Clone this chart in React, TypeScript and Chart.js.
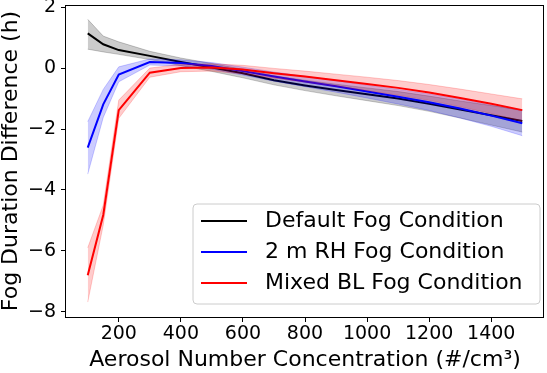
import React, { useEffect, useRef } from "react";
import { Chart, registerables } from "chart.js";

Chart.register(...registerables);

// ---- data ----
const xValues = [100, 150, 200, 300, 400, 500, 600, 700, 800, 900, 1000, 1100, 1200, 1300, 1400, 1500];

const defaultMean = [1.14, 0.78, 0.59, 0.40, 0.20, 0.02, -0.17, -0.40, -0.57, -0.72, -0.86, -1.00, -1.17, -1.36, -1.55, -1.74];
const defaultUpper = [1.60, 1.05, 0.86, 0.55, 0.33, 0.15, -0.04, -0.25, -0.40, -0.53, -0.65, -0.77, -0.92, -1.08, -1.23, -1.38];
const defaultLower = [0.62, 0.53, 0.45, 0.28, 0.08, -0.11, -0.32, -0.55, -0.74, -0.91, -1.07, -1.23, -1.42, -1.64, -1.87, -2.10];

const rhMean = [-2.61, -1.19, -0.21, 0.20, 0.17, 0.07, -0.10, -0.28, -0.44, -0.60, -0.77, -0.94, -1.12, -1.33, -1.56, -1.81];
const rhUpper = [-1.76, -0.70, 0.04, 0.30, 0.27, 0.18, 0.03, -0.13, -0.27, -0.41, -0.56, -0.70, -0.85, -1.02, -1.21, -1.40];
const rhLower = [-3.48, -1.62, -0.45, 0.10, 0.07, -0.04, -0.23, -0.43, -0.61, -0.79, -0.98, -1.18, -1.39, -1.64, -1.91, -2.22];

const blMean = [-6.80, -4.82, -1.38, -0.15, 0.00, 0.02, -0.05, -0.17, -0.28, -0.40, -0.52, -0.65, -0.80, -0.98, -1.17, -1.38];
const blUpper = [-5.90, -4.50, -1.05, 0.00, 0.12, 0.14, 0.09, -0.01, -0.10, -0.20, -0.30, -0.41, -0.54, -0.69, -0.85, -1.01];
const blLower = [-7.68, -5.15, -1.65, -0.30, -0.12, -0.10, -0.19, -0.33, -0.46, -0.60, -0.74, -0.89, -1.06, -1.27, -1.49, -1.75];

const seriesLabels = ["Default Fog Condition", "2 m RH Fog Condition", "Mixed BL Fog Condition"];
const xTicks = [200, 400, 600, 800, 1000, 1200, 1400];
const yTicks = [-8, -6, -4, -2, 0, 2];
const xTitle = "Aerosol Number Concentration (#/cm³)";
const yTitle = "Fog Duration Difference (h)";

const FONT = "'DejaVu Sans', sans-serif";
const lineColors = ["#000000", "#0000ff", "#ff0000"];
const bandColors = ["rgba(0,0,0,0.2)", "rgba(0,0,255,0.2)", "rgba(255,0,0,0.2)"];

const toPts = (ys: number[]) => xValues.map((x, i) => ({ x, y: ys[i] }));

function seriesDatasets(idx: number, mean: number[], lo: number[], hi: number[], order: number) {
  return [
    {
      label: seriesLabels[idx] + " upper",
      data: toPts(hi),
      borderColor: bandColors[idx],
      borderWidth: 1,
      pointRadius: 0,
      fill: false,
      order: order + 1,
    },
    {
      label: seriesLabels[idx] + " lower",
      data: toPts(lo),
      borderColor: bandColors[idx],
      backgroundColor: bandColors[idx],
      borderWidth: 1,
      pointRadius: 0,
      fill: "-1",
      order: order + 1,
    },
    {
      label: seriesLabels[idx],
      data: toPts(mean),
      borderColor: lineColors[idx],
      borderWidth: 2,
      pointRadius: 0,
      fill: false,
      order: order,
    },
  ];
}

const framePlugin = {
  id: "frameAndLegend",
  afterDraw(chart: any) {
    const { ctx, chartArea } = chart;
    ctx.save();
    // frame
    ctx.strokeStyle = "#000";
    ctx.lineWidth = 1;
    ctx.strokeRect(chartArea.left - 0.5, chartArea.top + 0.5, chartArea.right - chartArea.left, chartArea.bottom - chartArea.top);
    // legend
    const w = 347;
    const h = 100;
    const x0 = chartArea.right - 4 - w;
    const y0 = chartArea.bottom - 13 - h;
    const r = 4;
    ctx.beginPath();
    ctx.moveTo(x0 + r, y0);
    ctx.lineTo(x0 + w - r, y0);
    ctx.arcTo(x0 + w, y0, x0 + w, y0 + r, r);
    ctx.lineTo(x0 + w, y0 + h - r);
    ctx.arcTo(x0 + w, y0 + h, x0 + w - r, y0 + h, r);
    ctx.lineTo(x0 + r, y0 + h);
    ctx.arcTo(x0, y0 + h, x0, y0 + h - r, r);
    ctx.lineTo(x0, y0 + r);
    ctx.arcTo(x0, y0, x0 + r, y0, r);
    ctx.closePath();
    ctx.fillStyle = "rgba(255,255,255,0.8)";
    ctx.fill();
    ctx.strokeStyle = "#cccccc";
    ctx.lineWidth = 1;
    ctx.stroke();
    ctx.font = `22px ${FONT}`;
    ctx.textBaseline = "middle";
    ctx.textAlign = "left";
    seriesLabels.forEach((lab, i) => {
      const yy = y0 + 17 + i * 31;
      ctx.strokeStyle = lineColors[i];
      ctx.lineWidth = 2;
      ctx.beginPath();
      ctx.moveTo(x0 + 8, yy);
      ctx.lineTo(x0 + 54, yy);
      ctx.stroke();
      ctx.fillStyle = "#000";
      ctx.fillText(lab, x0 + 72, yy);
    });
    ctx.restore();
  },
};

export default function App() {
  const ref = useRef<HTMLCanvasElement | null>(null);
  useEffect(() => {
    if (!ref.current) return;
    const chart = new Chart(ref.current, {
      type: "line",
      data: {
        datasets: [
          ...seriesDatasets(0, defaultMean, defaultLower, defaultUpper, 5),
          ...seriesDatasets(1, rhMean, rhLower, rhUpper, 3),
          ...seriesDatasets(2, blMean, blLower, blUpper, 1),
        ] as any,
      },
      options: {
        animation: false,
        responsive: false,
        devicePixelRatio: 1,
        layout: { padding: { top: 5, right: 3, left: 0, bottom: 0 } },
        plugins: { legend: { display: false }, tooltip: { enabled: false } },
        elements: { line: { tension: 0 } },
        scales: {
          x: {
            type: "linear",
            min: 30,
            max: 1570,
            afterBuildTicks: (s: any) => {
              s.ticks = xTicks.map((v) => ({ value: v }));
            },
            afterFit: (s: any) => {
              s.height = 56;
            },
            border: { display: false },
            grid: { drawOnChartArea: false, drawTicks: true, tickLength: 5, tickColor: "#000", tickWidth: 1 },
            ticks: {
              color: "#000",
              font: { family: FONT, size: 19 },
              padding: 1,
              maxRotation: 0,
              callback: (v: any) => String(v),
            },
            title: { display: true, text: xTitle, color: "#000", font: { family: FONT, size: 22, lineHeight: 1 }, padding: { top: 0, bottom: 2 } },
          },
          y: {
            type: "linear",
            min: -8.17,
            max: 2.07,
            afterBuildTicks: (s: any) => {
              s.ticks = yTicks.map((v) => ({ value: v }));
            },
            afterFit: (s: any) => {
              s.width = 66;
              s.paddingTop = 0;
              s.paddingBottom = 0;
            },
            border: { display: false },
            grid: { drawOnChartArea: false, drawTicks: true, tickLength: 5, tickColor: "#000", tickWidth: 1 },
            ticks: {
              color: "#000",
              font: { family: FONT, size: 19, lineHeight: 0.3 },
              padding: 5,
              callback: (v: any) => (Number(v) < 0 ? "\u2212" + Math.abs(Number(v)) : String(v)),
            },
            title: { display: true, text: yTitle, color: "#000", font: { family: FONT, size: 22, lineHeight: 1 }, padding: { top: 0, bottom: 0 } },
          },
        },
      },
      plugins: [framePlugin],
    });
    return () => chart.destroy();
  }, []);
  return (
    <div style={{ position: "fixed", left: 0, top: 0, width: 547, height: 373, background: "#fff" }}>
      <canvas ref={ref} width={547} height={373} />
    </div>
  );
}
